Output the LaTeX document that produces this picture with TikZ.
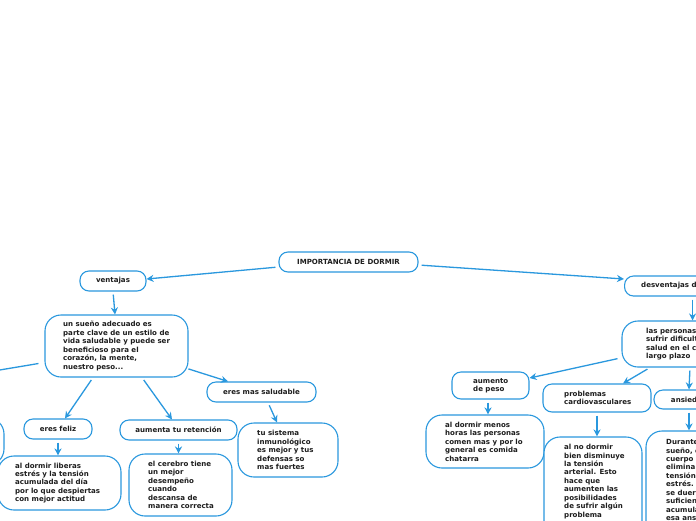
\documentclass[tikz,border=0pt]{standalone}
\usepackage{fontspec}
\setmainfont{DejaVu Sans}
\usetikzlibrary{arrows.meta,calc}
\definecolor{mblue}{HTML}{2A98DE}
\definecolor{mtext}{HTML}{1E1E1E}
\tikzset{
 box/.style={draw=mblue, line width=1.1pt, rounded corners=9pt, fill=white, inner sep=0pt, text=mtext, font=\fontsize{7.05}{8.45}\selectfont\bfseries},
 bigbox/.style={box, rounded corners=16pt},
 txt/.style={anchor=west, align=left, inner sep=0pt, text=mtext, font=\fontsize{7.05}{8.45}\selectfont\bfseries},
 conn/.style={draw=mblue, line width=1.3pt, -{Stealth[length=7pt,width=7pt]}, shorten <=3pt},
}
\begin{document}
\begin{tikzpicture}[x=1pt,y=-1pt]
\fill[white] (0,0) rectangle (696,520);
\begin{scope}
\clip (0,0) rectangle (696,520);
% root and main branches
\node[box, minimum width=139pt, minimum height=20pt] (root) at (348.5,262) {IMPORTANCIA DE DORMIR};
\node[box, minimum width=66pt, minimum height=20pt] (ventajas) at (113,281) {ventajas};
\node[box, minimum width=136pt, minimum height=20pt, anchor=west] (desv) at (624,286) {};
\node[txt] (desvt) at (641,286) {desventajas de no dormir};
% ventajas side
\node[bigbox, minimum width=143pt, minimum height=62pt] (big) at (116.5,346) {};
\node[txt] (bigt) at (63,346) {un sueño adecuado es\\parte clave de un estilo de\\vida saludable y puede ser\\beneficioso para el\\corazón, la mente,\\nuestro peso...};
\coordinate (offl) at (-60,380);
\node[bigbox, minimum width=104pt, minimum height=47pt] (leftbox) at (-48,441.5) {};
\node[box, minimum width=68pt, minimum height=20pt] (feliz) at (58,429) {eres feliz};
\node[box, minimum width=117pt, minimum height=20pt] (reten) at (178.5,430) {aumenta tu retención};
\node[box, minimum width=109pt, minimum height=20pt] (salud) at (261.5,392) {eres mas saludable};
\node[bigbox, minimum width=123pt, minimum height=54pt] (liber) at (59.5,483) {};
\node[txt] (libert) at (15,483) {al dormir liberas\\estrés y la tensión\\acumulada del día\\por lo que despiertas\\con mejor actitud};
\node[bigbox, minimum width=103pt, minimum height=62pt] (cereb) at (180.5,485) {};
\node[txt] (serebt) at (148,485) {el cerebro tiene\\un mejor\\desempeño\\cuando\\descansa de\\manera correcta};
\node[bigbox, minimum width=100pt, minimum height=54pt] (sist) at (288,450) {};
\node[txt] (sistt) at (257,450) {tu sistema\\inmunológico\\es mejor y tus\\defensas so\\mas fuertes};
% desventajas side
\node[bigbox, minimum width=140pt, minimum height=46pt] (pers) at (692,344) {};
\node[txt] (perst) at (646,344) {las personas pueden\\sufrir dificultades de\\salud en el corto y\\largo plazo};
\node[box, minimum width=77pt, minimum height=27pt] (aum) at (490.5,385.5) {};
\node[txt] (aumt) at (473,385.5) {aumento\\de peso};
\node[bigbox, minimum width=118pt, minimum height=53pt] (menos) at (485,441.5) {};
\node[txt] (menost) at (445,441.5) {al dormir menos\\horas las personas\\comen mas y por lo\\general es comida\\chatarra};
\node[box, minimum width=108pt, minimum height=28pt] (cardio) at (597,398) {};
\node[txt] (cardiot) at (564,398) {problemas\\cardiovasculares};
\node[bigbox, minimum width=98pt, minimum height=110pt] (alno) at (593,492) {};
\node[txt, anchor=north west] (alnot) at (564,444) {al no dormir\\bien disminuye\\la tensión\\arterial. Esto\\hace que\\aumenten las\\posibilidades\\de sufrir algún\\problema};
\node[box, minimum width=70pt, minimum height=19pt] (ansi) at (689,399.5) {ansiedad};
\node[bigbox, minimum width=88pt, minimum height=110pt] (dur) at (690,486) {};
\node[txt, anchor=north west] (durt) at (666,439) {Durante el\\sueño, el\\cuerpo\\elimina la\\tensión y el\\estrés. Si no\\se duerme lo\\suficiente, se\\acumula\\esa ansiedad};
% connectors
\draw[conn] ([yshift=-5pt]root.west) -- ([yshift=2pt]ventajas.east);
\draw[conn] ([yshift=-3pt]root.east) -- ([yshift=7pt]desv.west);
\draw[conn] (ventajas.south) -- ([xshift=-1.5pt]big.north);
\draw[conn] ([xshift=-23.5pt]big.south) -- ([xshift=7pt]feliz.north);
\draw[conn] ([xshift=25.5pt]big.south) -- ([xshift=-6.5pt]reten.north);
\draw[conn] ([xshift=-3pt,yshift=-22pt]big.east) -- ([xshift=-33.5pt]salud.north);
\draw[conn] ([xshift=-3pt,yshift=-17pt]big.west) -- (offl);
\draw[conn] (feliz.south) -- (feliz.south |- liber.north);
\draw[conn] (reten.south) -- (reten.south |- cereb.north);
\draw[conn] ([xshift=6.5pt]salud.south) -- ([xshift=-11pt]sist.north);
\draw[conn] (desv.south) -- (desv.south |- pers.north);
\draw[conn] ([xshift=-1pt,yshift=-14pt]pers.west) -- ([yshift=7.5pt]aum.east);
\draw[conn] ([xshift=-42pt]pers.south) -- ([xshift=26pt]cardio.north);
\draw[conn] ([xshift=-2pt]pers.south) -- (ansi.north);
\draw[conn] ([xshift=-2.5pt]aum.south) -- ([xshift=-2.5pt]aum.south |- menos.north);
\draw[conn] (cardio.south) -- (cardio.south |- alno.north);
\draw[conn] (ansi.south) -- (ansi.south |- dur.north);
\end{scope}
\pgfresetboundingbox
\path[use as bounding box] (0,0) rectangle (696,520);
\end{tikzpicture}
\end{document}
